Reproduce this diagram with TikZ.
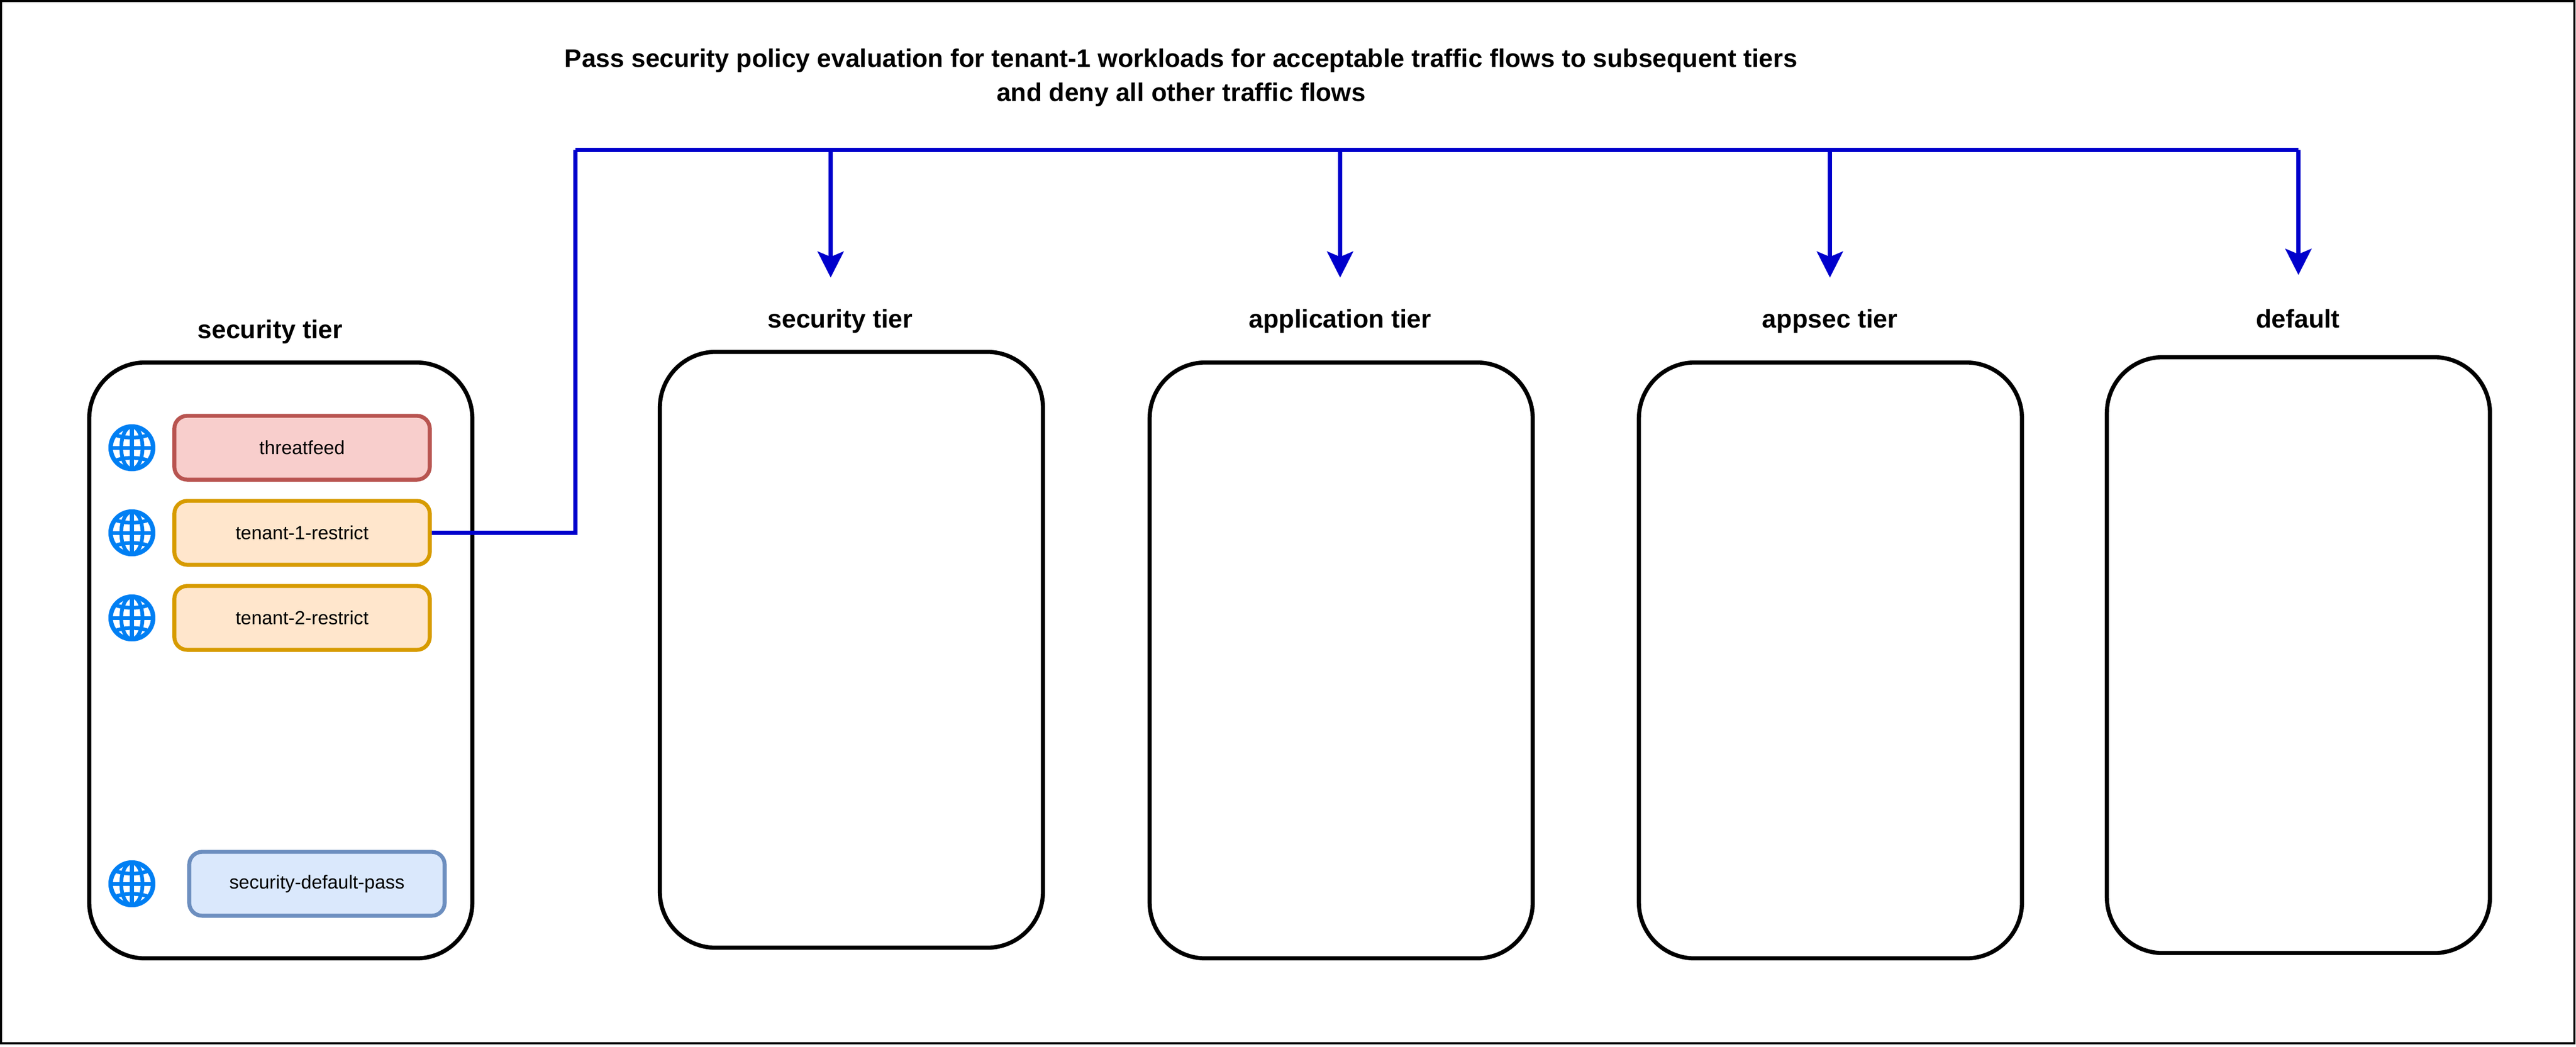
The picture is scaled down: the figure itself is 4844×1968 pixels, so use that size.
\documentclass[tikz,border=0pt]{standalone}
\usepackage{fontspec}
\setmainfont{Liberation Sans}
\usetikzlibrary{arrows.meta,positioning}
\definecolor{linkblue}{RGB}{0, 0, 204}
\definecolor{globeblue}{RGB}{0, 127, 243}
\definecolor{redfill}{HTML}{F8CECC}
\definecolor{redline}{HTML}{B85450}
\definecolor{orangefill}{HTML}{FFE6CC}
\definecolor{orangeline}{HTML}{D79B00}
\definecolor{bluefill}{HTML}{DAE8FC}
\definecolor{blueline}{HTML}{6C8EBF}
\tikzset{
  tier/.style={draw=black, line width=2.2pt, rounded corners=1.05cm, minimum width=7.2cm, minimum height=11.2cm, inner sep=0pt},
  titletext/.style={font=\bfseries\fontsize{13.65}{18}\selectfont, align=center},
  tierlabel/.style={font=\bfseries\fontsize{13.7}{18}\selectfont, anchor=base},
  policy/.style={line width=2.1pt, rounded corners=0.24cm, minimum width=4.8cm, minimum height=1.2cm, inner sep=0pt, font=\fontsize{10.15}{12}\selectfont},
  threat/.style={policy, draw=redline, fill=redfill},
  tenant/.style={policy, draw=orangeline, fill=orangefill},
  passing/.style={policy, draw=blueline, fill=bluefill},
  link/.style={draw=linkblue, line width=2.1pt},
  globe/.pic={
    \draw[globeblue, fill=white, line width=2.4pt] (0,0) circle (40);
    \draw[globeblue, line width=2pt] (0,-40) -- (0,40) (-40,0) -- (40,0);
    \draw[globeblue, line width=2pt] (0,0) ellipse (20 and 40);
    \draw[globeblue, line width=2pt] (-33,-25) .. controls (-15,-17) and (15,-17) .. (33,-25);
    \draw[globeblue, line width=2pt] (-33,25) .. controls (-15,17) and (15,17) .. (33,25);
  }
}
\begin{document}
\begin{tikzpicture}[x=0.01cm, y=-0.01cm]
  \useasboundingbox (0,0) rectangle (4844,1968);
  \draw[line width=1.15pt] (2,2) rectangle (4841,1962);

  % Title
  \node[titletext] (title) at (2221,146) {Pass security policy evaluation for tenant-1 workloads for acceptable traffic flows to subsequent tiers\\and deny all other traffic flows};

  % Tiers
  \node[tier] (tierleft) at (528,1242) {};
  \node[tier] (tiersec) at (1601,1222) {};
  \node[tier] (tierapp) at (2522,1242) {};
  \node[tier] (tierappsec) at (3442,1242) {};
  \node[tier] (tierdefault) at (4322,1232) {};

  % Tier labels
  \node[tierlabel] (labelleft) at (508,636) {security tier};
  \node[tierlabel] (labelsec) at (1580,616) {security tier};
  \node[tierlabel] (labelapp) at (2520,616) {application tier};
  \node[tierlabel] (labelappsec) at (3441,616) {appsec tier};
  \node[tierlabel] (labeldefault) at (4321,616) {default};

  % Policies
  \node[threat] (threatfeed) at (568,842) {threatfeed};
  \node[tenant] (tenantone) at (568,1002) {tenant-1-restrict};
  \node[tenant] (tenanttwo) at (568,1162) {tenant-2-restrict};
  \node[passing] (secpass) at (596,1662) {security-default-pass};

  % Globes
  \foreach \y in {842, 1002, 1162, 1662} {
    \pic at (248,\y) {globe};
  }

  % Links
  \coordinate (corner) at (1082,282);
  \draw[link] (tenantone.east) -| (corner);
  \coordinate (endsec) at (1562,522);
  \coordinate (endapp) at (2520,522);
  \coordinate (endappsec) at (3441,522);
  \coordinate (enddefault) at (4322,517);
  \draw[link] (corner) -- (enddefault |- corner);
  \foreach \e in {endsec, endapp, endappsec, enddefault} {
    \draw[link, -{Stealth[length=49*0.01cm, width=49*0.01cm, inset=10*0.01cm]}] (\e |- corner) -- (\e);
  }
\end{tikzpicture}
\end{document}
